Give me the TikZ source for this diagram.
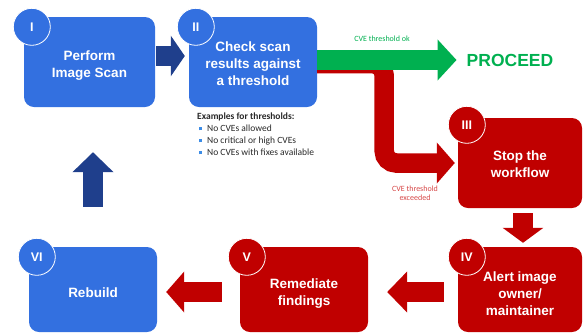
\documentclass[tikz,border=0pt]{standalone}
\usepackage{fontspec}
\setmainfont{Liberation Sans}
\newfontfamily\calfont{Carlito}
\usetikzlibrary{arrows.meta, positioning}

\definecolor{boxblue}{RGB}{51,112,224}
\definecolor{arrblue}{RGB}{31,63,140}
\definecolor{boxred}{RGB}{192,0,0}
\definecolor{okgreen}{RGB}{0,176,80}
\definecolor{exred}{RGB}{214,70,70}
\definecolor{bulblue}{RGB}{60,140,230}
\definecolor{exgray}{RGB}{40,40,40}
\newcommand{\bulsq}{\textcolor{bulblue}{\rule[1.6pt]{3pt}{3pt}}}
\newcommand{\dn}[1][17.5pt]{\rule{0pt}{#1}}

\begin{document}
\begin{tikzpicture}[x=1pt, y=-1pt,
    stepbox/.style={rectangle, rounded corners=10pt, minimum width=128pt, minimum height=90pt, align=center, text=white, font=\bfseries\fontsize{13.5}{17}\selectfont, inner sep=0pt},
    numcirc/.style={circle, draw=white, line width=0.8pt, minimum size=37pt, inner sep=0pt, text=white, font=\bfseries\fontsize{12.5}{14}\selectfont},
    blockarrow/.style={line width=20pt, -{Triangle[length=#1, width=40pt]}},
    blockarrow/.default=18pt,
    note/.style={font=\calfont\fontsize{8}{9.5}\selectfont, align=center, inner sep=0pt}
]
\useasboundingbox (0,0) rectangle (583,333);

% Nodes
\node[stepbox, fill=boxblue, minimum width=131pt] (s1) at (89.5,62) {\dn Perform\\Image Scan};
\node[stepbox, fill=boxblue] (s2) at (253,62) {\dn[12.5pt]Check scan\\results against\\a threshold};
\node[stepbox, fill=boxred, minimum width=124pt] (s3) at (520,163) {\dn[12pt]Stop the\\workflow};
\node[stepbox, fill=boxred, minimum width=124pt, minimum height=85pt] (s4) at (520,289.5) {\dn Alert image\\owner/\\maintainer};
\node[stepbox, fill=boxred, minimum height=85pt] (s5) at (304,289.5) {\dn Remediate\\findings};
\node[stepbox, fill=boxblue, minimum height=85pt] (s6) at (93,289.5) {\dn[16pt]Rebuild};

\node[numcirc, fill=boxblue] (c1) at ([shift={(8,10)}]s1.north west) {I};
\node[numcirc, fill=boxblue] (c2) at ([shift={(7,10)}]s2.north west) {II};
\node[numcirc, fill=boxred] (c3) at ([shift={(9,7)}]s3.north west) {III};
\node[numcirc, fill=boxred] (c4) at ([shift={(9,10)}]s4.north west) {IV};
\node[numcirc, fill=boxred] (c5) at ([shift={(7,10)}]s5.north west) {V};
\node[numcirc, fill=boxblue] (c6) at ([shift={(8,10)}]s6.north west) {VI};

\node[text=okgreen, font=\bfseries\fontsize{17.5}{20}\selectfont, inner sep=0pt] (proc) at (510,60) {PROCEED};
\node[note, text=okgreen] (oklbl) at (382,39) {CVE threshold ok};
\node[note, text=exred] (exlbl) at (415,193) {CVE threshold\\exceeded};

\node[anchor=north west, align=left, inner sep=0pt, text=exgray, font=\calfont\fontsize{9.5}{12}\selectfont] (ex) at (197,113)
  {\textbf{Examples for thresholds:}\\
   \hspace*{2pt}\bulsq\hspace{5pt}No CVEs allowed\\
   \hspace*{2pt}\bulsq\hspace{5pt}No critical or high CVEs\\
   \hspace*{2pt}\bulsq\hspace{5pt}No CVEs with fixes available};

% Arrows
\draw[blockarrow=14pt, arrblue] ([xshift=1pt, yshift=6pt]s1.east) -- ([xshift=-4pt, yshift=6pt]s2.west);
\draw[blockarrow, boxred, line width=19.5pt, rounded corners=12pt] ([yshift=-1.5pt]s2.east) -- ++(67,0) |- ([xshift=-3pt]s3.west);
\draw[blockarrow=19pt, okgreen] ([yshift=2pt]s2.east) -- ([xshift=-10pt]proc.west);
\draw[blockarrow=15pt, boxred] ([xshift=3pt, yshift=-5pt]s3.south) -- ([xshift=3pt, yshift=4pt]s4.north);
\draw[blockarrow=20pt, boxred] ([xshift=-14pt, yshift=-2.5pt]s4.west) -- ([xshift=19pt, yshift=-2.5pt]s5.east);
\draw[blockarrow, boxred] ([xshift=-18pt, yshift=-2.5pt]s5.west) -- ([xshift=9pt, yshift=-2.5pt]s6.east);
\draw[blockarrow=20pt, arrblue] ([yshift=40pt]s6.north) -- ([xshift=3.5pt, yshift=-45pt]s1.south);

\end{tikzpicture}
\end{document}
